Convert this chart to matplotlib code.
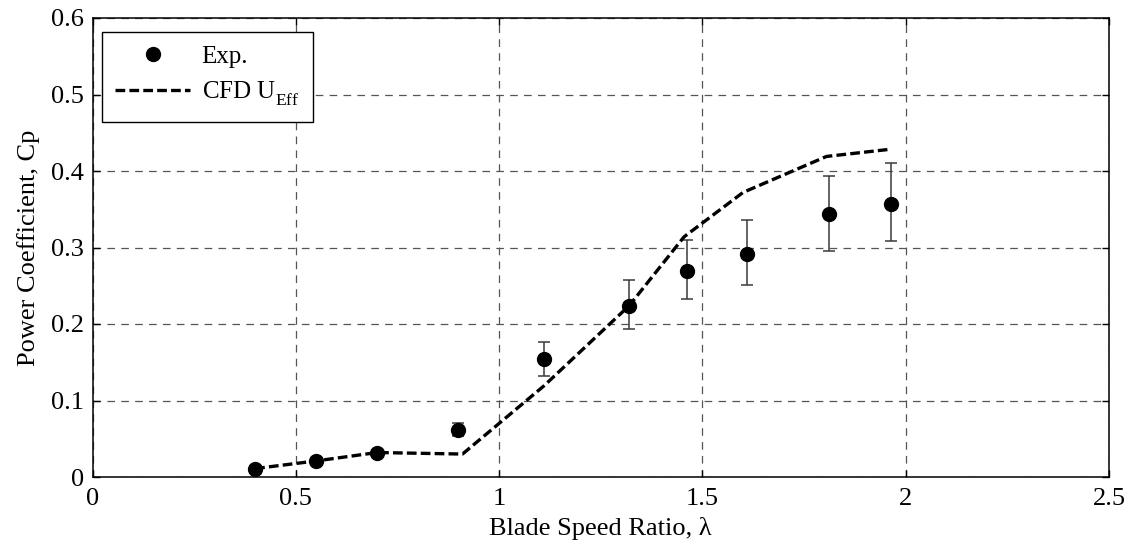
import matplotlib
matplotlib.use("Agg")
import matplotlib.pyplot as plt

try:
    from matplotlib import _mathtext
    # lower subscripts a little, closer to classic typesetting
    _mathtext.FontConstantsBase.sub1 = 0.65
    _mathtext.FontConstantsBase.sub2 = 0.75
except Exception:
    pass

# Experimental power coefficient with uncertainty bounds
exp_tsr = [0.40, 0.55, 0.70, 0.90, 1.11, 1.32, 1.463, 1.609, 1.812, 1.963]
exp_cp = [0.011, 0.021, 0.031, 0.061, 0.154, 0.223, 0.269, 0.292, 0.344, 0.357]
exp_cp_hi = [0.011, 0.021, 0.031, 0.071, 0.177, 0.257, 0.310, 0.336, 0.393, 0.410]
exp_cp_lo = [0.011, 0.021, 0.031, 0.053, 0.132, 0.193, 0.233, 0.251, 0.295, 0.308]

# CFD prediction using the effective inflow velocity
cfd_tsr = [0.40, 0.55, 0.70, 0.91, 1.11, 1.32, 1.455, 1.60, 1.805, 1.955]
cfd_cp = [0.011, 0.021, 0.032, 0.030, 0.119, 0.224, 0.314, 0.372, 0.419, 0.428]

x_ticks = [0, 0.5, 1, 1.5, 2, 2.5]
x_tick_labels = ["0", "0.5", "1", "1.5", "2", "2.5"]
y_ticks = [0, 0.1, 0.2, 0.3, 0.4, 0.5, 0.6]
y_tick_labels = ["0", "0.1", "0.2", "0.3", "0.4", "0.5", "0.6"]

plt.rcParams["font.family"] = ["Liberation Serif", "DejaVu Serif"]
plt.rcParams["mathtext.fontset"] = "custom"
plt.rcParams["mathtext.rm"] = "Liberation Serif"
plt.rcParams["mathtext.it"] = "Liberation Serif:italic"
plt.rcParams["lines.scale_dashes"] = False

fs = 19

fig = plt.figure(figsize=(11.31, 5.48), dpi=100)
ax = fig.add_axes([92.5 / 1131, 1 - 477 / 548, (1109 - 92.5) / 1131, (477 - 18) / 548])

err_lo = [c - lo for c, lo in zip(exp_cp, exp_cp_lo)]
err_hi = [hi - c for c, hi in zip(exp_cp, exp_cp_hi)]

ax.errorbar(exp_tsr, exp_cp, yerr=[err_lo, err_hi], fmt="none",
            ecolor="#3a3a3a", elinewidth=1.1, capsize=4.3, capthick=1.1, zorder=3)
ax.plot(exp_tsr, exp_cp, linestyle="none", marker="o", markersize=10,
        color="black", label="Exp.", zorder=4)
ax.plot(cfd_tsr, cfd_cp, color="black", linewidth=2.4,
        dashes=(7.0, 3.0), label=r"CFD U$_{\mathrm{Eff}}$", zorder=5)

ax.set_xlim(0, 2.5)
ax.set_ylim(0, 0.6)
ax.set_xticks(x_ticks)
ax.set_xticklabels(x_tick_labels)
ax.set_yticks(y_ticks)
ax.set_yticklabels(y_tick_labels)
ax.tick_params(axis="both", direction="in", length=5, width=1, labelsize=fs,
               top=True, right=True, colors="black")
ax.tick_params(axis="x", pad=8)
ax.tick_params(axis="y", pad=6)
ax.grid(True, color="#555555", linestyle=(0, (5.5, 4.5)), linewidth=0.9)
ax.set_axisbelow(True)
for s in ax.spines.values():
    s.set_linewidth(1.1)
    s.set_color("black")

ax.set_xlabel("Blade Speed Ratio, λ", fontsize=fs, labelpad=5)
ax.set_ylabel("Power Coefficient, Cp", fontsize=fs, labelpad=8)

leg = ax.legend(loc="upper left", bbox_to_anchor=(0.009, 0.97), fontsize=18,
                frameon=True, fancybox=False, edgecolor="black",
                handlelength=3.0, handletextpad=0.45, borderpad=0.55,
                labelspacing=0.45, borderaxespad=0.0)
leg.get_frame().set_linewidth(1.0)
leg.get_frame().set_alpha(1.0)

fig.savefig("out.png", dpi=100)
